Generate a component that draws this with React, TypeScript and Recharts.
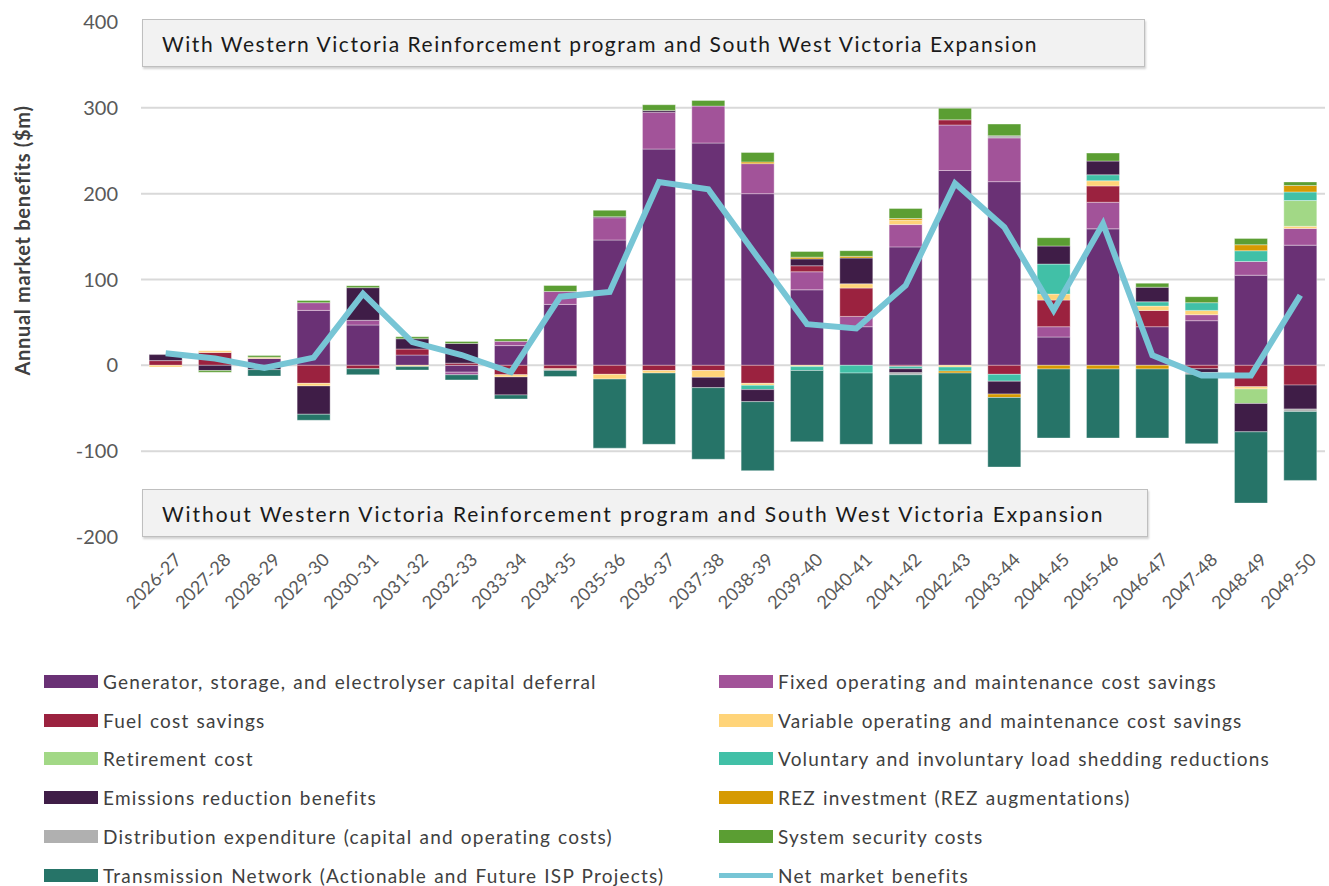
import React from 'react';
import { ComposedChart, Bar, Line, XAxis, YAxis, CartesianGrid, Legend, Label } from 'recharts';

const categories = ['2026-27','2027-28','2028-29','2029-30','2030-31','2031-32','2032-33','2033-34','2034-35','2035-36','2036-37','2037-38','2038-39','2039-40','2040-41','2041-42','2042-43','2043-44','2044-45','2045-46','2046-47','2047-48','2048-49','2049-50'];

const generatorDeferral = [0, 0, 8, 64, 47, 12, -8, 23, 71, 146, 252, 259, 200, 88, 45, 138, 227, 214, 33, 159, 45, 52, 105, 140];
const fixedOmSavings = [0, 0, 0, 9, 5.5, 0, -3, 5, 15, 26, 43, 43, 35, 21, 12, 26, 53, 51, 12, 31, 0, 7, 16, 19.5];
const fuelSavings = [5.5, 15, 0, -21, -4, 7, 2.5, -11, -4, -10.5, -6, -6, -21, 7, 33, -1.5, 6, -10.5, 31, 19, 19, -4, -25, -23];
const variableOmSavings = [-2, 2, 1.5, -3, 0, -1.5, 0, -2.5, -1, -5.5, -3, -8, -2.3, -1.5, 5, 5, -2, 0, 7, 6, 5, 5, -2.5, 2.5];
const retirementCost = [0, 0, 0, 0, 0, 0, 0, 0, 0, 0, 0, 0, 0, 0, 0, 0, 0, 0, 0, 0, 0, 0, -17, 30];
const loadShedding = [0, 0, 0, 0, 0, 0, 0, 0, 0, 0, 0, 0, -5, -4.5, -9, -2.5, -4.7, -8, 35, 7, 5, 9, 12.5, 10];
const emissionsReduction = [7, -6, -5, -33, 38, 12, 23, -21, -1, 1.2, 2, -12, -14, 8, 30, -4.7, 0, -15, 21, 16, 17, -4.3, -33, -28];
const rezInvestment = [0, 0, 0, 0, 0, 0, 0, 0, 0, 0, 0, 0, 2, 2, 2, 2, -2.3, -4, -4.3, -4.3, -4.3, 0, 7, 7.5];
const distributionExpenditure = [0, 0, 0, 0, 0, 0, 0, 0, 0, 0, 0, 0, 0, 0, 0, -2.3, 0, 2.5, 0, 0, 0, -2, 0, -2.7];
const systemSecurity = [0, -2, 2, 2.5, 2.3, 2.3, 2.3, 2.7, 7, 7.5, 6.6, 6.6, 11, 6.6, 6.6, 11.7, 13.5, 13.6, 9.7, 9.3, 4.7, 7, 7.4, 4.2];
const transmissionNetwork = [0, 0, -7.5, -7, -7, -4, -6, -4.7, -7, -80.5, -83, -83.4, -80.4, -83, -83, -81, -83, -81, -80.4, -80.4, -80.4, -81, -83, -80.4];
const netMarketBenefits = [14, 8, -3, 9, 83.5, 27, 12, -8, 80, 85.5, 213.5, 205, 126, 48, 43, 93, 212, 161, 64, 165, 11.7, -11.7, -11.7, 81.6];

const yTicks = [-200, -100, 0, 100, 200, 300, 400];
const gridValues = [-100, 0, 100, 200, 300];

const topNote = 'With Western Victoria Reinforcement program and South West Victoria Expansion';
const bottomNote = 'Without Western Victoria Reinforcement program and South West Victoria Expansion';
const yAxisTitle = 'Annual market benefits ($m)';

const seriesDefs = [
  { key: 'gen', name: 'Generator, storage, and electrolyser capital deferral', color: '#6A3175', values: generatorDeferral },
  { key: 'fom', name: 'Fixed operating and maintenance cost savings', color: '#A25399', values: fixedOmSavings },
  { key: 'fuel', name: 'Fuel cost savings', color: '#9B223F', values: fuelSavings },
  { key: 'vom', name: 'Variable operating and maintenance cost savings', color: '#FFD479', values: variableOmSavings },
  { key: 'ret', name: 'Retirement cost', color: '#A2D886', values: retirementCost },
  { key: 'use', name: 'Voluntary and involuntary load shedding reductions', color: '#41C0A7', values: loadShedding },
  { key: 'emi', name: 'Emissions reduction benefits', color: '#3F1D47', values: emissionsReduction },
  { key: 'rez', name: 'REZ investment (REZ augmentations)', color: '#D69A02', values: rezInvestment },
  { key: 'dist', name: 'Distribution expenditure (capital and operating costs)', color: '#B0B0B0', values: distributionExpenditure },
  { key: 'sys', name: 'System security costs', color: '#5B9E33', values: systemSecurity },
  { key: 'tx', name: 'Transmission Network (Actionable and Future ISP Projects)', color: '#267468', values: transmissionNetwork },
];
const netName = 'Net market benefits';
const netColor = '#77C5D5';
const legendOrder = [...seriesDefs.map((s) => s.name), netName];

const data = categories.map((c, i) => {
  const row: any = { category: c, net: netMarketBenefits[i] };
  seriesDefs.forEach((s) => { row[s.key] = s.values[i]; });
  return row;
});

const FONT = "Lato, 'Open Sans', sans-serif";

const XTick = (props: any) => {
  const { x, y, payload } = props;
  return (
    <g transform={`translate(${x + 12},${y + 11}) rotate(-45)`}>
      <text x={0} y={0} textAnchor="end" dominantBaseline="central" fontFamily={FONT} fontSize={18} fill="#595959">
        {payload.value}
      </text>
    </g>
  );
};

const renderLegend = (props: any) => {
  const payload = [...(props.payload || [])].sort(
    (a: any, b: any) => legendOrder.indexOf(a.value) - legendOrder.indexOf(b.value)
  );
  return (
    <div style={{ display: 'grid', gridTemplateColumns: '675px 600px', fontFamily: FONT }}>
      {payload.map((e: any) => (
        <div key={e.value} style={{ height: 38.8, display: 'flex', alignItems: 'center' }}>
          {e.type === 'line' ? (
            <svg width={54} height={13} style={{ display: 'block' }}>
              <line x1={0} y1={6.5} x2={54} y2={6.5} stroke={e.color} strokeWidth={5} />
            </svg>
          ) : (
            <span style={{ display: 'inline-block', width: 54, height: 13, background: e.color }} />
          )}
          <span style={{ marginLeft: 5, fontSize: 19, letterSpacing: 1.2, wordSpacing: 1, color: '#404040', whiteSpace: 'nowrap' }}>{e.value}</span>
        </div>
      ))}
    </div>
  );
};

const boxStyle: React.CSSProperties = {
  position: 'absolute',
  left: 142,
  height: 48,
  boxSizing: 'border-box',
  background: '#F2F2F2',
  border: '1.5px solid #BFBFBF',
  boxShadow: '1px 2px 2px rgba(0,0,0,0.18)',
  display: 'flex',
  alignItems: 'center',
  paddingLeft: 19,
  fontFamily: FONT,
  fontSize: 21,
  color: '#1A1A1A',
  whiteSpace: 'nowrap',
};

export default function App() {
  return (
    <div style={{ position: 'absolute', left: 0, top: 0, width: 1329, height: 886, background: '#fff' }}>
      <ComposedChart
        width={1329}
        height={886}
        data={data}
        stackOffset="sign"
        barCategoryGap="16.5%"
        margin={{ top: 22, right: 4, bottom: 0, left: 0 }}
      >
        <CartesianGrid vertical={false} horizontalValues={gridValues} stroke="#D9D9D9" strokeWidth={2} />
        <XAxis dataKey="category" interval={0} axisLine={false} tickLine={false} height={349} tick={<XTick />} />
        <YAxis
          domain={[-200, 400]}
          ticks={yTicks}
          interval={0}
          width={141}
          axisLine={false}
          tickLine={false}
          tickSize={0}
          tickMargin={23}
          tick={{ fontFamily: FONT, fontSize: 20, fill: '#595959' }}
        >
          <Label
            content={(p: any) => {
              const vb = p.viewBox || {};
              const cx = 22;
              const cy = vb.y + vb.height / 2 - 39;
              return (
                <text x={cx} y={cy} transform={`rotate(-90, ${cx}, ${cy})`} textAnchor="middle" dominantBaseline="central" fontFamily={FONT} fontWeight="bold" fontSize={20} letterSpacing={0.7} fill="#404040">
                  {yAxisTitle}
                </text>
              );
            }}
          />
        </YAxis>
        {seriesDefs.map((s) => (
          <Bar key={s.key} dataKey={s.key} name={s.name} stackId="a" fill={s.color} stroke="#FFFFFF" strokeOpacity={0.45} strokeWidth={0.8} isAnimationActive={false} />
        ))}
        <Line type="linear" dataKey="net" name={netName} stroke={netColor} strokeWidth={6} dot={false} activeDot={false} legendType="line" isAnimationActive={false} />
        <Legend
          layout="vertical"
          align="center"
          verticalAlign="middle"
          content={renderLegend}
          wrapperStyle={{ position: 'absolute', left: 44, top: 662, width: 1285 }}
        />
      </ComposedChart>
      <div style={{ ...boxStyle, top: 19, width: 1003, letterSpacing: 1.55 }}>{topNote}</div>
      <div style={{ ...boxStyle, top: 489, width: 1006, letterSpacing: 1.93 }}>{bottomNote}</div>
    </div>
  );
}
